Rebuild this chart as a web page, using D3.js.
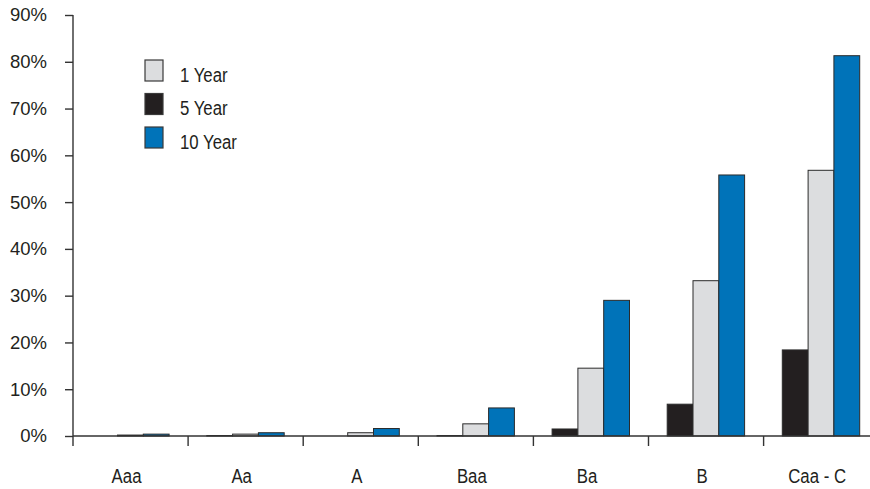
<!DOCTYPE html>
<html>
<head>
<meta charset="utf-8">
<script src="https://cdn.jsdelivr.net/npm/d3@7"></script>
<style>
  html, body { margin: 0; padding: 0; background: #fff; }
  svg { display: block; }
  .narrow { font-family: "Liberation Sans", Arial, sans-serif; }
</style>
</head>
<body>
<svg id="chart" width="870" height="489"></svg>
<script>
// ---- data ----
const categories = ["Aaa", "Aa", "A", "Baa", "Ba", "B", "Caa - C"];
const oneYear  = [0.2, 0.4, 0.7, 2.6, 14.5, 33.2, 56.8];   // light gray
const fiveYear = [0.0, 0.1, 0.0, 0.1, 1.5, 6.8, 18.4];     // black
const tenYear  = [0.4, 0.7, 1.6, 6.0, 29.0, 55.8, 81.3];   // blue
const yTicks = [0, 10, 20, 30, 40, 50, 60, 70, 80, 90];
const legendOrder = ["1 Year", "5 Year", "10 Year"];
const barOrder = ["5 Year", "1 Year", "10 Year"];

const seriesValues = { "1 Year": oneYear, "5 Year": fiveYear, "10 Year": tenYear };
const seriesColor = { "1 Year": "#dcdddf", "5 Year": "#231f20", "10 Year": "#0073b9" };

// ---- layout ----
const svg = d3.select("#chart");
const axisX = 73, baseY = 436, topY = 15;
const squeeze = 0.8;
const x0 = d3.scaleBand().domain(categories).range([axisX, axisX + 7 * 115.1]).paddingInner(0).paddingOuter(0);
const x1 = d3.scaleBand().domain(barOrder).range([18.7, 18.7 + 3 * 25.8]).padding(0);
const y = d3.scaleLinear().domain([0, 90]).range([baseY, topY]);

// bars
const groups = svg.append("g").selectAll("g")
  .data(categories)
  .join("g")
  .attr("transform", d => `translate(${x0(d)},0)`);

groups.selectAll("rect")
  .data((c, i) => barOrder.map(s => ({ s, v: seriesValues[s][i] })))
  .join("rect")
  .attr("x", d => x1(d.s))
  .attr("width", x1.bandwidth())
  .attr("y", d => y(d.v))
  .attr("height", d => baseY - y(d.v))
  .attr("fill", d => seriesColor[d.s])
  .attr("stroke", d => d.v > 0 ? "#2b2b2b" : "none")
  .attr("stroke-width", 1);

// y axis
const yAxis = d3.axisLeft(y).tickValues(yTicks).tickSize(8).tickPadding(0).tickFormat(d => d + "%");
const yg = svg.append("g").attr("transform", `translate(${axisX},0)`).call(yAxis);
yg.select(".domain").remove();
yg.selectAll(".tick line").attr("stroke", "#333").attr("stroke-width", 1.4);
yg.selectAll(".tick text")
  .attr("x", -26)
  .attr("fill", "#231f20")
  .style("font-family", "'Liberation Sans', Arial, sans-serif")
  .style("font-size", "18.5px");
svg.append("line")
  .attr("x1", axisX).attr("x2", axisX)
  .attr("y1", y(90)).attr("y2", baseY + 10)
  .attr("stroke", "#333").attr("stroke-width", 1.4);

// x axis
svg.append("line")
  .attr("x1", axisX).attr("x2", 870)
  .attr("y1", baseY).attr("y2", baseY)
  .attr("stroke", "#333").attr("stroke-width", 1.4);
svg.append("g").selectAll("line")
  .data(categories.slice(1))
  .join("line")
  .attr("x1", d => x0(d)).attr("x2", d => x0(d))
  .attr("y1", baseY).attr("y2", baseY + 10)
  .attr("stroke", "#333").attr("stroke-width", 1.4);
svg.append("g").selectAll("text")
  .data(categories)
  .join("text")
  .attr("class", "narrow")
  .attr("transform", d => `translate(${x0(d) + x0.bandwidth() / 2 - 4},483) scale(${squeeze},1)`)
  .attr("text-anchor", "middle")
  .attr("fill", "#231f20")
  .style("font-size", "21px")
  .text(d => d);

// legend
const lg = svg.append("g").selectAll("g")
  .data(legendOrder)
  .join("g")
  .attr("transform", (d, i) => `translate(145,${60 + i * 33.5})`);
lg.append("rect")
  .attr("width", 18).attr("height", 21)
  .attr("fill", d => seriesColor[d])
  .attr("stroke", "#3a3a3a").attr("stroke-width", 1.2);
lg.append("text")
  .attr("class", "narrow")
  .attr("transform", `translate(35,21.5) scale(${squeeze},1)`)
  .attr("fill", "#231f20")
  .style("font-size", "21px")
  .text(d => d);
</script>
</body>
</html>
